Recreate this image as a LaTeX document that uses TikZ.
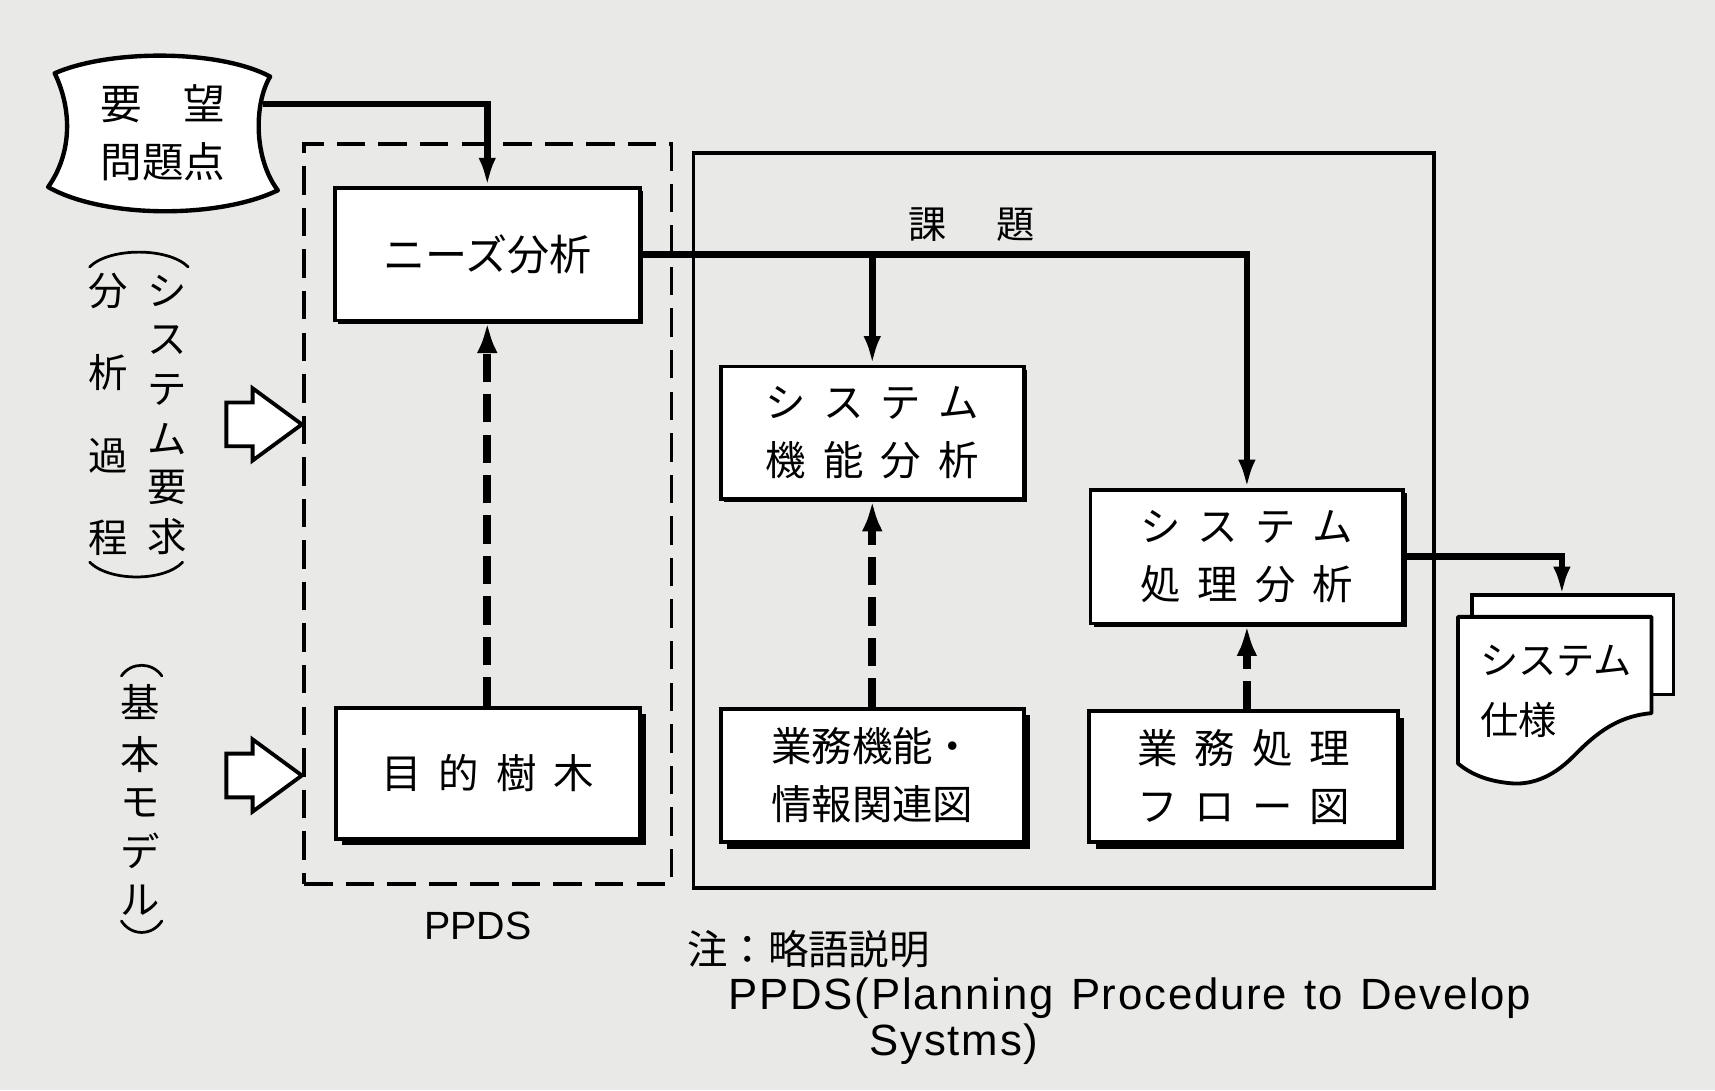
\documentclass[tikz,border=0pt]{standalone}
\usepackage{fontspec}
\setmainfont{Liberation Sans}
\newfontfamily\jpf{Noto Sans CJK JP}
\newfontfamily\ltsp[LetterSpace=4.0]{Liberation Sans}
\usetikzlibrary{arrows.meta,shadows}
\newcommand\JG{\hskip0.42em\relax}
\definecolor{bgc}{RGB}{233,233,231}
\begin{document}
\begin{tikzpicture}[x=1pt,y=-1pt,
  box/.style={draw, line width=3.5pt, fill=white, inner sep=0pt, align=center, line join=miter,
    font=\jpf\fontsize{37}{53}\selectfont},
  shA/.style={drop shadow={shadow xshift=3pt, shadow yshift=-3pt, fill=black, opacity=1}},
  shB/.style={drop shadow={shadow xshift=6pt, shadow yshift=-6pt, fill=black, opacity=1}},
  conn/.style={line width=6pt, -{Latex[length=26pt,width=16pt]}},
  dconn/.style={line width=7pt, dash pattern=on 26pt off 11pt, -{Latex[length=28pt,width=19pt]}},
  vch/.style={font=\jpf\fontsize{36}{36}\selectfont, inner sep=0pt},
  paren/.style={line width=2.5pt, line cap=round},
  hollow/.style={draw, fill=white, line width=3.5pt, line join=miter},
  jtext/.style={font=\jpf\fontsize{37}{53}\selectfont, inner sep=0pt, align=center},
  ltext/.style={font=\ltsp\fontsize{40}{44}\selectfont, inner sep=0pt}
]
\fill[bgc] (0,0) rectangle (1568,997);
\useasboundingbox (0,0) rectangle (1568,997);

% containers
\node[draw, line width=3.5pt, dash pattern=on 26pt off 12pt, minimum width=336pt, minimum height=676pt] (ppds) at (446,470) {};
\node[draw, line width=3.5pt, minimum width=677pt, minimum height=672pt] (kadaibox) at (972.5,476) {};
\node[jtext, font=\jpf\fontsize{35}{40}\selectfont] (kadai) at (888,205) {課\hskip1.3em 題};
\node[inner sep=0pt, font=\fontsize{36}{40}\selectfont] (ppdslabel) at (437,847) {PPDS};

% cloud
\draw[line width=4pt, fill=white, line join=round] (50,67) .. controls (100,45) and (200,45) .. (247,70)
  .. controls (232,95) and (232,145) .. (254,174)
  .. controls (200,200) and (95,200) .. (44,171)
  .. controls (66,140) and (66,100) .. (50,67) -- cycle;
\node[jtext, font=\jpf\fontsize{38}{53}\selectfont] (cloud) at (149,121) {要\hskip1em 望\\問題点};
\coordinate (cloudR) at (240,95);

% boxes
\node[box, shA, minimum width=279pt, minimum height=121pt, font=\jpf\fontsize{38.5}{53}\selectfont] (needs) at (445.5,232.5) {ニーズ分析};
\node[box, shB, minimum width=278pt, minimum height=120pt] (mokuteki) at (446,707) {目\JG 的\JG 樹\JG 木};
\node[box, shA, minimum width=277pt, minimum height=121pt] (kinou) at (797.5,395.5) {シ\JG ス\JG テ\JG ム\\機\JG 能\JG 分\JG 析};
\node[box, shA, minimum width=286pt, minimum height=122pt] (shori) at (1140,509) {シ\JG ス\JG テ\JG ム\\処\JG 理\JG 分\JG 析};
\node[box, shB, minimum width=277pt, minimum height=122pt] (gyomuA) at (797.5,709) {業務機能・\\情報関連図};
\node[box, shB, minimum width=282pt, minimum height=120pt] (gyomuB) at (1137,710) {業\JG 務\JG 処\JG 理\\フ\JG ロ\JG ー\JG 図};

% connectors
\draw[conn] (cloudR) -| (needs.north);
\draw[conn] (needs.east) -| (shori.north);
\draw[conn] (needs.east -| kinou.north) -- (kinou.north);
\draw[dconn] (mokuteki.north -| needs.south) -- (needs.south);
\draw[dconn] (gyomuA.north -| kinou.south) -- (kinou.south);
\draw[dconn] (gyomuB.north -| shori.south) -- (shori.south);

% document stack
\coordinate (docin) at (1428,544);
\draw[conn] (shori.east) -| (docin);
\draw[line width=3.5pt, fill=white, line join=miter] (1346,544) rectangle (1530,635);
\draw[line width=3.5pt, fill=white, line join=round] (1333,564) -- (1510,564) -- (1510,652)
  .. controls (1475,655) and (1455,675) .. (1438,692)
  .. controls (1418,712) and (1398,718) .. (1380,716)
  .. controls (1360,714) and (1345,708) .. (1333,698) -- cycle;
\node[jtext, align=left, anchor=west, font=\jpf\fontsize{35}{55}\selectfont] (spec) at (1353,632) {システム\\仕様};

% hollow arrows
\draw[hollow] (207,368) -- (231,368) -- (231,355) -- (276,388) -- (231,421) -- (231,408) -- (207,408) -- cycle;
\draw[hollow] (207,689) -- (231,689) -- (231,676) -- (276,709) -- (231,742) -- (231,729) -- (207,729) -- cycle;

% vertical text: (システム要求分析過程)
\draw[paren] (82,244) .. controls (100,226) and (154,226) .. (172,244);
\draw[paren] (82,514) .. controls (100,532) and (150,532) .. (167,514);
\node[vch] (r1) at (153,266) {シ};
\node[vch] (r2) at (153,311) {ス};
\node[vch] (r3) at (153,356) {テ};
\node[vch] (r4) at (153,401) {ム};
\node[vch] (r5) at (153,446) {要};
\node[vch] (r6) at (153,491) {求};
\node[vch] (l1) at (99,266) {分};
\node[vch] (l2) at (99,341) {析};
\node[vch] (l3) at (99,417) {過};
\node[vch] (l4) at (99,492) {程};

% vertical text: (基本モデル)
\draw[paren] (111,618) .. controls (120,605) and (139,605) .. (148,618);
\draw[paren] (111,842) .. controls (120,856) and (139,856) .. (148,842);
\node[vch] (m1) at (128,642) {基};
\node[vch] (m2) at (128,690) {本};
\node[vch] (m3) at (128,734) {モ};
\node[vch] (m4) at (128,778) {デ};
\node[vch] (m5) at (128,823) {ル};

% note
\node[jtext, anchor=west] (note) at (628,868) {注：略語説明};
\node[ltext, anchor=west] (noteA) at (666,913) {PPDS(Planning\hskip0.4em Procedure\hskip0.4em to\hskip0.4em Develop};
\node[ltext, anchor=west] (noteB) at (795,955) {Systms)};
\end{tikzpicture}
\end{document}
